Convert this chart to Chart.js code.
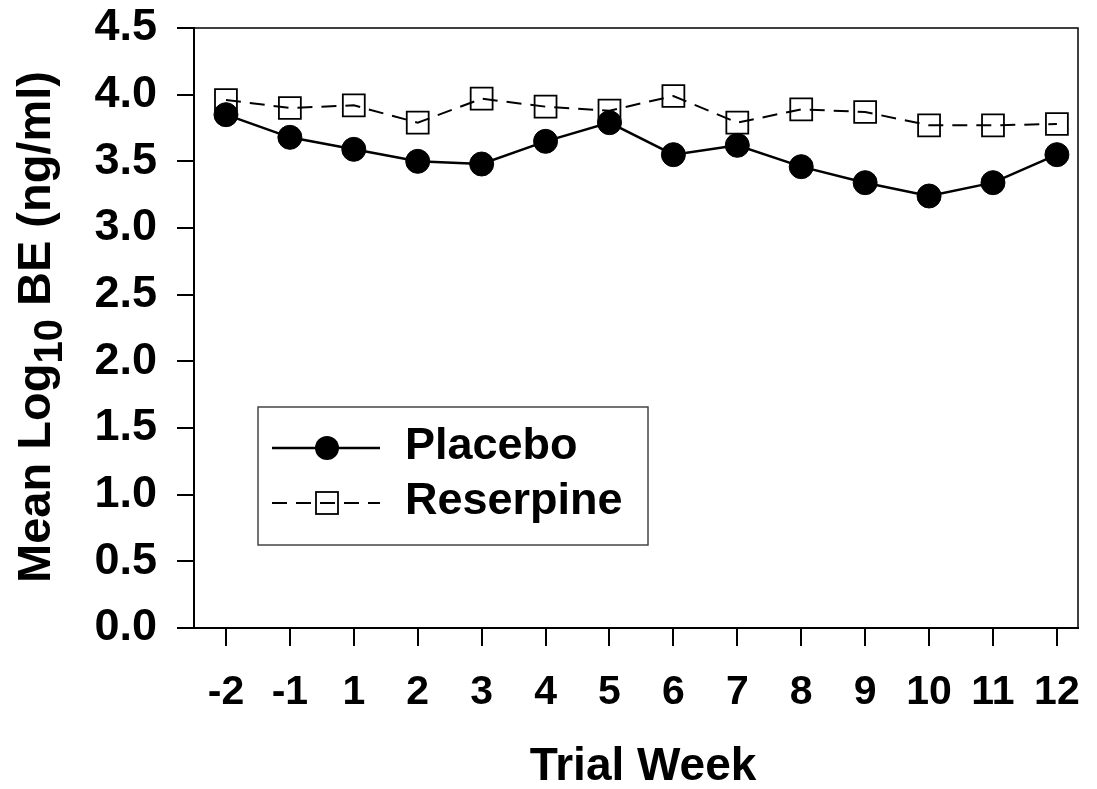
<!DOCTYPE html>
<html>
<head>
<meta charset="utf-8">
<script src="https://cdn.jsdelivr.net/npm/chart.js@4"></script>
<style>
  html, body { margin: 0; padding: 0; background: #fff; }
  #wrap { width: 1097px; height: 789px; }
</style>
</head>
<body>
<div id="wrap"><canvas id="c" width="1097" height="789"></canvas></div>
<script>
const weekLabels = ['-2', '-1', '1', '2', '3', '4', '5', '6', '7', '8', '9', '10', '11', '12'];
const placeboValues = [3.85, 3.68, 3.59, 3.50, 3.48, 3.65, 3.79, 3.55, 3.62, 3.46, 3.34, 3.24, 3.34, 3.55];
const reserpineValues = [3.96, 3.90, 3.92, 3.79, 3.97, 3.91, 3.88, 3.99, 3.79, 3.89, 3.87, 3.77, 3.77, 3.78];
const yTickValues = [0, 0.5, 1.0, 1.5, 2.0, 2.5, 3.0, 3.5, 4.0, 4.5];
const seriesNames = ['Placebo', 'Reserpine'];

const FONT = '"Liberation Sans", Arial, Helvetica, sans-serif';

const toPoints = vals => vals.map((v, i) => ({ x: i, y: v }));

const framePlugin = {
  id: 'frame',
  afterDraw(chart) {
    const { ctx, chartArea: a } = chart;
    ctx.save();
    ctx.strokeStyle = '#000';
    ctx.lineWidth = 1.5;
    ctx.beginPath();
    ctx.moveTo(a.left, a.top);
    ctx.lineTo(a.right, a.top);
    ctx.lineTo(a.right, a.bottom);
    ctx.stroke();
    ctx.restore();
  }
};

const titlesPlugin = {
  id: 'titles',
  afterDraw(chart) {
    const { ctx } = chart;
    ctx.save();
    ctx.fillStyle = '#000';
    // X title
    ctx.font = 'bold 46px ' + FONT;
    ctx.textAlign = 'center';
    ctx.textBaseline = 'alphabetic';
    ctx.fillText('Trial Week', 643, 780);
    // Y title with subscript
    const mainFont = 'bold 47px ' + FONT;
    const subFont = 'bold 40px ' + FONT;
    const p1 = 'Mean Log', p2 = '10', p3 = ' BE (ng/ml)';
    ctx.font = mainFont; const w1 = ctx.measureText(p1).width;
    ctx.font = subFont; const w2 = ctx.measureText(p2).width;
    ctx.font = mainFont; const w3 = ctx.measureText(p3).width;
    const total = w1 + w2 + w3;
    ctx.translate(50, 327);
    ctx.rotate(-Math.PI / 2);
    ctx.textAlign = 'left';
    let x = -total / 2;
    ctx.font = mainFont; ctx.fillText(p1, x, 0); x += w1;
    ctx.font = subFont; ctx.fillText(p2, x, 12); x += w2;
    ctx.font = mainFont; ctx.fillText(p3, x, 0);
    ctx.restore();
  }
};

const legendPlugin = {
  id: 'customLegend',
  afterDraw(chart) {
    const { ctx } = chart;
    ctx.save();
    ctx.strokeStyle = '#444';
    ctx.lineWidth = 1.5;
    ctx.strokeRect(258, 407, 390, 138);
    // Placebo
    ctx.strokeStyle = '#000';
    ctx.lineWidth = 2.5;
    ctx.setLineDash([]);
    ctx.beginPath(); ctx.moveTo(272, 448); ctx.lineTo(380, 448); ctx.stroke();
    ctx.fillStyle = '#000';
    ctx.beginPath(); ctx.arc(327, 448, 12, 0, Math.PI * 2); ctx.fill();
    // Reserpine
    ctx.lineWidth = 2;
    ctx.setLineDash([15, 9]);
    ctx.beginPath(); ctx.moveTo(272, 503); ctx.lineTo(380, 503); ctx.stroke();
    ctx.setLineDash([]);
    ctx.lineWidth = 1.8;
    ctx.strokeRect(316, 492, 22, 22);
    // Text
    ctx.font = 'bold 45px ' + FONT;
    ctx.textAlign = 'left';
    ctx.textBaseline = 'middle';
    ctx.fillText(seriesNames[0], 405, 447);
    ctx.fillText(seriesNames[1], 405, 502);
    ctx.restore();
  }
};

new Chart(document.getElementById('c'), {
  type: 'line',
  data: {
    datasets: [
      {
        label: seriesNames[0],
        data: toPoints(placeboValues),
        borderColor: '#000',
        backgroundColor: '#000',
        borderWidth: 2.5,
        pointStyle: 'circle',
        pointRadius: 12,
        pointBackgroundColor: '#000',
        pointBorderColor: '#000',
        pointBorderWidth: 1,
        tension: 0
      },
      {
        label: seriesNames[1],
        data: toPoints(reserpineValues),
        borderColor: '#000',
        backgroundColor: 'rgba(0,0,0,0)',
        borderWidth: 2,
        borderDash: [15, 9],
        pointStyle: 'rect',
        pointRadius: 15.5,
        pointBackgroundColor: 'rgba(0,0,0,0)',
        pointBorderColor: '#000',
        pointBorderWidth: 1.8,
        tension: 0
      }
    ]
  },
  options: {
    responsive: false,
    animation: false,
    devicePixelRatio: 1,
    layout: { padding: { top: 28, right: 19, left: 0, bottom: 0 } },
    plugins: {
      legend: { display: false },
      tooltip: { enabled: false },
      title: { display: false }
    },
    scales: {
      x: {
        type: 'linear',
        min: -0.5,
        max: 13.33,
        afterFit(s) { s.height = 161; s.paddingLeft = 0; s.paddingRight = 0; },
        afterBuildTicks(s) { s.ticks = weekLabels.map((_, i) => ({ value: i })); },
        grid: { display: true, drawOnChartArea: false, drawTicks: true, tickLength: 18, color: '#000', lineWidth: 2 },
        border: { display: true, color: '#000', width: 2 },
        ticks: {
          autoSkip: false,
          maxRotation: 0,
          color: '#000',
          padding: 22,
          font: { family: FONT, size: 41, weight: 'bold' },
          callback: (v) => weekLabels[v]
        }
      },
      y: {
        min: 0,
        max: 4.5,
        afterFit(s) { s.width = 194; s.paddingTop = 0; s.paddingBottom = 0; },
        afterBuildTicks(s) { s.ticks = yTickValues.map(v => ({ value: v })); },
        grid: { display: true, drawOnChartArea: false, drawTicks: true, tickLength: 17, color: '#000', lineWidth: 2 },
        border: { display: true, color: '#000', width: 2 },
        ticks: {
          color: '#000',
          padding: 20,
          font: { family: FONT, size: 45, weight: 'bold' },
          callback: (v) => Number(v).toFixed(1)
        }
      }
    }
  },
  plugins: [framePlugin, titlesPlugin, legendPlugin]
});
</script>
</body>
</html>
